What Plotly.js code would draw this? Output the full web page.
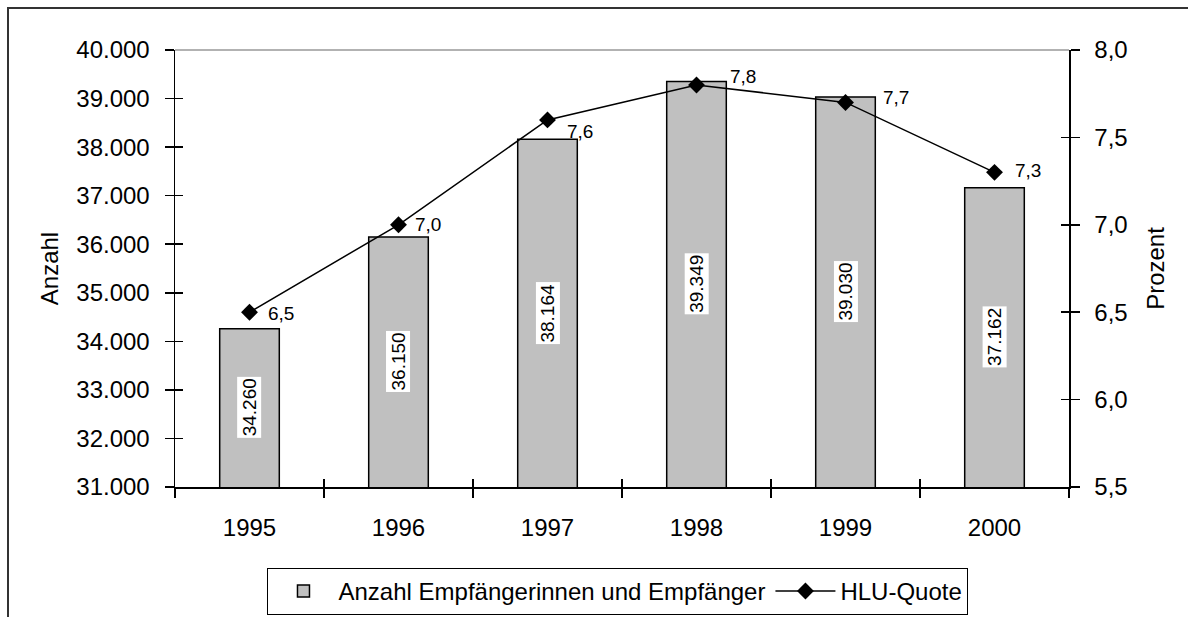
<!DOCTYPE html>
<html>
<head>
<meta charset="utf-8">
<script src="https://cdn.plot.ly/plotly-3.0.1.min.js"></script>
<style>html,body{margin:0;padding:0;background:#fff;}#chart{width:1188px;height:617px;}</style>
</head>
<body>
<div id="chart"></div>
<script>
const years = ['1995', '1996', '1997', '1998', '1999', '2000'];
const anzahl = [34260, 36150, 38164, 39349, 39030, 37162];
const quote = [6.5, 7.0, 7.6, 7.8, 7.7, 7.3];
const leftTicks = [31000, 32000, 33000, 34000, 35000, 36000, 37000, 38000, 39000, 40000];
const rightTicks = [5.5, 6.0, 6.5, 7.0, 7.5, 8.0];
const leftRange = [31000, 40000];
const rightRange = [5.5, 8.0];
// label placement style (pixel offsets of the HLU-Quote labels from their markers)
const quoteLabelDx = [16, 14, 17, 31, 35, 18];
const quoteLabelDy = [-1, 0, -12, 8, 5, 2];

const FONT = '"Liberation Sans", Arial, sans-serif';
const fmtDE = n => String(n).replace(/\B(?=(\d{3})+(?!\d))/g, '.');
const fmtPct = q => q.toFixed(1).replace('.', ',');

const bars = {
  type: 'bar',
  name: 'Anzahl Empfängerinnen und Empfänger',
  x: years,
  y: anzahl,
  width: 0.4,
  marker: {color: '#c0c0c0', line: {color: '#000', width: 1.5}},
  hoverinfo: 'x+y'
};
const line = {
  type: 'scatter',
  mode: 'lines+markers',
  name: 'HLU-Quote',
  x: years,
  y: quote,
  yaxis: 'y2',
  line: {color: '#000', width: 1.5},
  marker: {symbol: 'diamond', size: 13, color: '#000'},
  cliponaxis: false
};
// invisible helper traces so the inside-tick overlay axes are drawn
const helperLeft = {type: 'scatter', mode: 'markers', x: years, y: anzahl, xaxis: 'x3', yaxis: 'y3',
  marker: {opacity: 0}, showlegend: false, hoverinfo: 'skip'};
const helperRight = {type: 'scatter', mode: 'markers', x: years, y: quote, xaxis: 'x', yaxis: 'y4',
  marker: {opacity: 0}, showlegend: false, hoverinfo: 'skip'};

const barLabels = years.map((yr, i) => ({
  x: i, y: (leftRange[0] + anzahl[i]) / 2, xref: 'x', yref: 'y',
  text: fmtDE(anzahl[i]), showarrow: false, textangle: -90,
  bgcolor: '#fff', borderpad: 1,
  font: {family: FONT, size: 19, color: '#000'}
}));
const quoteLabels = years.map((yr, i) => ({
  x: i, y: quote[i], xref: 'x', yref: 'y2',
  text: fmtPct(quote[i]), showarrow: false, xanchor: 'left', yanchor: 'middle',
  xshift: quoteLabelDx[i], yshift: quoteLabelDy[i],
  font: {family: FONT, size: 19, color: '#000'}
}));

const tickStyle = {tickcolor: '#000', tickwidth: 1.5, showgrid: false, zeroline: false};

const layout = {
  width: 1188, height: 617,
  margin: {l: 175, r: 119, t: 50, b: 130, autoexpand: false},
  paper_bgcolor: '#fff', plot_bgcolor: '#fff',
  font: {family: FONT, size: 24, color: '#000'},
  separators: ',.',
  showlegend: true,
  xaxis: Object.assign({
    type: 'category', categoryorder: 'array', categoryarray: years, range: [-0.5, 5.5],
    showline: true, linecolor: '#000', linewidth: 1.5,
    ticks: 'outside', ticklen: 9,
    tickson: 'boundaries', ticklabelstandoff: 19, tickangle: 0,
    tickfont: {family: FONT, size: 24, color: '#000'}
  }, tickStyle),
  xaxis3: Object.assign({
    type: 'category', categoryorder: 'array', categoryarray: years, range: [-0.5, 5.5],
    overlaying: 'x', anchor: 'y', side: 'bottom',
    ticks: 'inside', ticklen: 8, tickson: 'boundaries',
    showticklabels: false, showline: false
  }, tickStyle),
  yaxis: Object.assign({
    range: leftRange, tickvals: leftTicks, tickformat: ',d',
    showline: true, linecolor: '#000', linewidth: 1.5,
    ticks: 'outside', ticklen: 9, ticklabelstandoff: 10,
    title: {text: 'Anzahl', standoff: 11, font: {family: FONT, size: 24, color: '#000'}}
  }, tickStyle),
  yaxis3: Object.assign({
    overlaying: 'y', side: 'left', anchor: 'x', range: leftRange, tickvals: leftTicks,
    ticks: 'inside', ticklen: 8, showticklabels: false, showline: false
  }, tickStyle),
  yaxis2: Object.assign({
    overlaying: 'y', side: 'right', range: rightRange, tickvals: rightTicks, tickformat: '.1f',
    showline: true, linecolor: '#000', linewidth: 1.5,
    ticks: 'outside', ticklen: 9, ticklabelstandoff: 10,
    title: {text: 'Prozent', standoff: 20, font: {family: FONT, size: 24, color: '#000'}}
  }, tickStyle),
  yaxis4: Object.assign({
    overlaying: 'y', side: 'right', range: rightRange, tickvals: rightTicks,
    ticks: 'inside', ticklen: 8, showticklabels: false, showline: false
  }, tickStyle),
  legend: {
    orientation: 'h', x: 0.4955, y: -0.185, xanchor: 'center', yanchor: 'top',
    bordercolor: '#000', borderwidth: 1, bgcolor: '#fff',
    font: {family: FONT, size: 24, color: '#000'},
    itemwidth: 60, tracegroupgap: 0
  },
  annotations: barLabels.concat(quoteLabels),
  shapes: [
    {type: 'rect', xref: 'paper', yref: 'paper', x0: -0.1868, x1: 1.2, y0: -0.4, y1: 1.0961,
     line: {color: '#333', width: 2}, layer: 'below'},
    {type: 'line', xref: 'paper', yref: 'paper', x0: 0, x1: 1, y0: 1, y1: 1,
     line: {color: '#999', width: 1.5}}
  ]
};

Plotly.newPlot('chart', [bars, line, helperLeft, helperRight], layout, {displayModeBar: false, staticPlot: true});
</script>
</body>
</html>
